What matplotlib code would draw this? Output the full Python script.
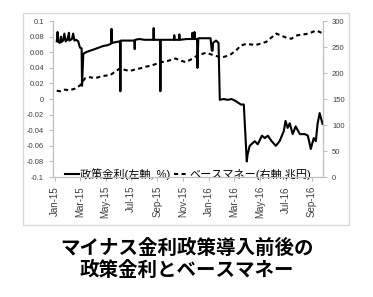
import pandas as pd
import matplotlib
matplotlib.use('Agg')
from matplotlib import pyplot as plt
import matplotlib.dates as mdates
import matplotlib.patches as patches
from matplotlib.ticker import FuncFormatter

# 政策金利 (左軸, %)
rate_dates = [
    '2015-01-05', '2015-01-07', '2015-01-08', '2015-01-12', '2015-01-15', '2015-01-16',
    '2015-01-20', '2015-01-23', '2015-01-26', '2015-01-30', '2015-02-03', '2015-02-04',
    '2015-02-10', '2015-02-13', '2015-02-16', '2015-02-20', '2015-02-25', '2015-03-01',
    '2015-03-05', '2015-03-06', '2015-03-09', '2015-03-15', '2015-03-25', '2015-04-05',
    '2015-04-15', '2015-04-25', '2015-05-05', '2015-05-14', '2015-05-15', '2015-05-16',
    '2015-05-25', '2015-06-04', '2015-06-05', '2015-06-06', '2015-06-20', '2015-07-08',
    '2015-07-09', '2015-07-10', '2015-07-20', '2015-08-01', '2015-08-22', '2015-08-23',
    '2015-08-24', '2015-09-07', '2015-09-08', '2015-09-09', '2015-09-25', '2015-10-10',
    '2015-10-11', '2015-10-12', '2015-10-22', '2015-10-23', '2015-10-24', '2015-11-10',
    '2015-11-22', '2015-11-23', '2015-11-24', '2015-11-27', '2015-11-28', '2015-11-29',
    '2015-12-04', '2015-12-05', '2015-12-07', '2015-12-15', '2015-12-25', '2016-01-05',
    '2016-01-08', '2016-01-10', '2016-01-11', '2016-01-18', '2016-01-24', '2016-01-27',
    '2016-02-05', '2016-02-15', '2016-02-24', '2016-03-03', '2016-03-17', '2016-03-24',
    '2016-03-31', '2016-04-02', '2016-04-07', '2016-04-19', '2016-04-26', '2016-05-06',
    '2016-05-13', '2016-05-20', '2016-05-29', '2016-06-08', '2016-06-17', '2016-06-27',
    '2016-07-01', '2016-07-06', '2016-07-11', '2016-07-18', '2016-07-25', '2016-08-04',
    '2016-08-16', '2016-08-23', '2016-08-30', '2016-09-06', '2016-09-11', '2016-09-15',
    '2016-09-20', '2016-09-27',
]
rate_values = [
    0.074, 0.086, 0.074, 0.072, 0.080, 0.073,
    0.075, 0.084, 0.074, 0.076, 0.085, 0.075,
    0.077, 0.084, 0.075, 0.076, 0.074, 0.066,
    0.065, 0.017, 0.058, 0.060, 0.062, 0.064,
    0.066, 0.068, 0.069, 0.071, 0.090, 0.072,
    0.073, 0.074, 0.010, 0.075, 0.075, 0.075,
    0.064, 0.076, 0.077, 0.076, 0.076, 0.091,
    0.076, 0.076, 0.010, 0.076, 0.076, 0.076,
    0.082, 0.076, 0.076, 0.083, 0.076, 0.077,
    0.077, 0.085, 0.077, 0.077, 0.086, 0.077,
    0.077, 0.040, 0.078, 0.078, 0.078, 0.078,
    0.062, 0.062, 0.072, 0.075, 0.072, -0.001,
    0.000, -0.001, 0.000, -0.002, -0.007, -0.007,
    -0.080, -0.071, -0.060, -0.054, -0.058, -0.047,
    -0.050, -0.047, -0.054, -0.060, -0.054, -0.041,
    -0.028, -0.037, -0.031, -0.045, -0.035, -0.045,
    -0.045, -0.047, -0.064, -0.050, -0.054, -0.032,
    -0.018, -0.032,
]

# ベースマネー (右軸, 兆円)
base_dates = [
    '2015-01-05', '2015-01-13', '2015-01-24', '2015-02-05', '2015-02-17', '2015-03-01',
    '2015-03-06', '2015-03-13', '2015-03-25', '2015-04-06', '2015-04-18', '2015-04-30',
    '2015-05-12', '2015-05-24', '2015-06-04', '2015-06-16', '2015-06-28', '2015-07-10',
    '2015-07-22', '2015-08-03', '2015-08-15', '2015-08-27', '2015-09-08', '2015-09-20',
    '2015-10-02', '2015-10-14', '2015-10-26', '2015-11-07', '2015-11-19', '2015-12-01',
    '2015-12-13', '2015-12-25', '2016-01-06', '2016-01-18', '2016-01-30', '2016-02-10',
    '2016-02-22', '2016-03-05', '2016-03-17', '2016-03-29', '2016-04-10', '2016-04-22',
    '2016-05-04', '2016-05-16', '2016-05-28', '2016-06-09', '2016-06-21', '2016-07-03',
    '2016-07-15', '2016-07-26', '2016-08-07', '2016-08-19', '2016-08-31', '2016-09-12',
    '2016-09-23', '2016-09-27',
]
base_values = [
    166, 165, 168, 167, 170, 176,
    182, 190, 192, 190, 193, 195,
    196, 203, 209, 206, 204, 207,
    209, 212, 214, 217, 221, 222,
    225, 228, 224, 221, 226, 232,
    236, 239, 236, 233, 230, 232,
    236, 243, 253, 256, 255, 254,
    257, 260, 268, 276, 272, 268,
    266, 272, 274, 275, 278, 282,
    278, 277,
]

left_ticks = [0.1, 0.08, 0.06, 0.04, 0.02, 0, -0.02, -0.04, -0.06, -0.08, -0.1]
right_ticks = [0, 50, 100, 150, 200, 250, 300]

plt.rcParams['font.family'] = ['Liberation Sans', 'Noto Sans CJK JP']

fig = plt.figure(figsize=(3.73, 2.97), dpi=100)
ax = fig.add_axes([0.142, 0.404, 0.724, 0.525])
ax2 = ax.twinx()

rd = pd.to_datetime(rate_dates)
bd = pd.to_datetime(base_dates)
l1, = ax.plot(rd, rate_values, color='black', lw=1.5, label='政策金利(左軸, %)')
l2, = ax2.plot(bd, base_values, color='black', lw=1.5, ls=(0, (2, 1.6)),
               label='ベースマネー(右軸,兆円)')

ax.set_ylim(-0.1, 0.1)
ax.set_yticks(left_ticks)
ax.yaxis.set_major_formatter(FuncFormatter(lambda v, p: '{:g}'.format(round(v, 2))))
ax2.set_ylim(0, 300)
ax2.set_yticks(right_ticks)

ax.set_xlim(pd.Timestamp('2014-12-27'), pd.Timestamp('2016-09-28'))
ax.xaxis.set_major_locator(mdates.MonthLocator(bymonth=[1, 3, 5, 7, 9, 11]))
ax.xaxis.set_major_formatter(mdates.DateFormatter('%b-%y'))
for lab in ax.get_xticklabels():
    lab.set_rotation(90)

gray = '#bfbfbf'
for a in (ax, ax2):
    a.spines['top'].set_visible(False)
    a.spines['left'].set_color(gray)
    a.spines['right'].set_color(gray)
    a.spines['bottom'].set_color(gray)
    a.tick_params(colors=gray, labelcolor='#404040', length=3, width=0.8)
ax.tick_params(axis='y', labelsize=5.5)
ax2.tick_params(axis='y', labelsize=5.5)
ax.tick_params(axis='x', labelsize=7)

ax.legend([l1, l2], [l1.get_label(), l2.get_label()], loc='lower center',
          bbox_to_anchor=(0.5, -0.02), ncol=2, frameon=False, fontsize=8,
          handlelength=1.3, handletextpad=0.1, columnspacing=0.3,
          borderpad=0, borderaxespad=0)

fig.patches.append(patches.Rectangle((0.062, 0.242), 0.874, 0.714, transform=fig.transFigure,
                                     fill=False, edgecolor='#d9d9d9', lw=1))

fig.text(0.5, 0.165, 'マイナス金利政策導入前後の', ha='center', va='center',
         fontsize=14, fontweight='bold', family=['Noto Sans CJK JP'])
fig.text(0.5, 0.091, '政策金利とベースマネー', ha='center', va='center',
         fontsize=14, fontweight='bold', family=['Noto Sans CJK JP'])

plt.savefig('out.png', dpi=100)
